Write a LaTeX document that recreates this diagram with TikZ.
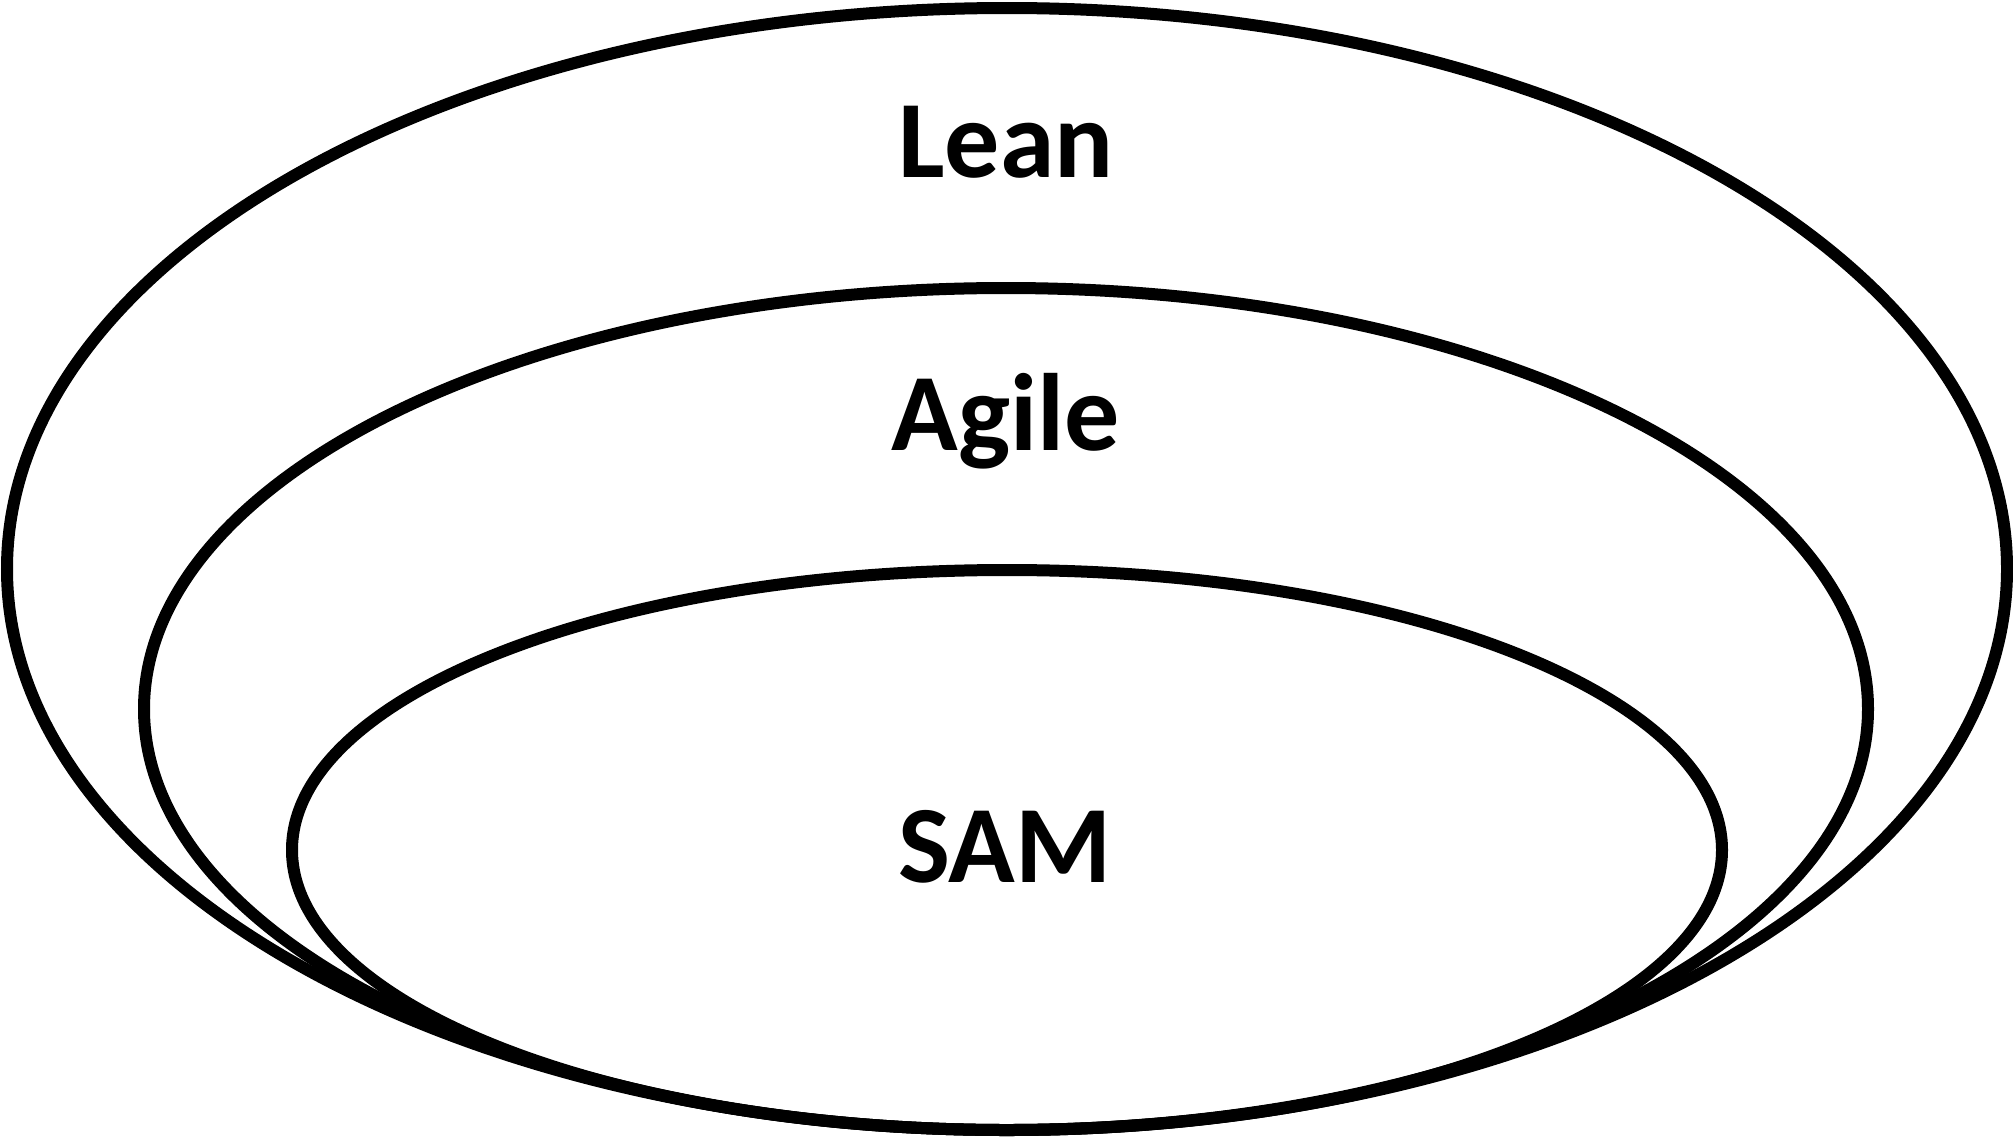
\documentclass[tikz,border=0pt]{standalone}
\usepackage{fontspec}
\setmainfont{Carlito}
\begin{document}
\begin{tikzpicture}[x=1pt,y=-1pt,
  ring/.style={draw=black,line width=12pt},
  label/.style={anchor=base,inner sep=0pt,font=\fontsize{110}{120}\selectfont\bfseries}]
\useasboundingbox (0,0) rectangle (2013,1138);
\draw[ring] (1007,569) ellipse [x radius=1000, y radius=561];
\draw[ring] (1006,709) ellipse [x radius=862, y radius=421];
\draw[ring] (1007,850) ellipse [x radius=715, y radius=280];
\node[label] (lean) at (1006,177) {Lean};
\node[label] (agile) at (1006,450) {Agile};
\node[label] (sam) at (1005,882) {SAM};
\end{tikzpicture}
\end{document}
